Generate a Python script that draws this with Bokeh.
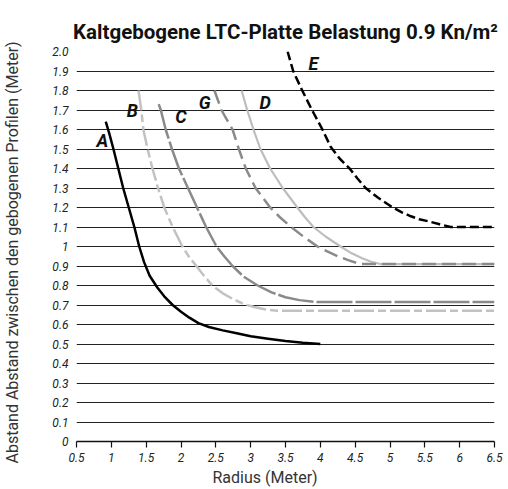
from bokeh.plotting import figure
from bokeh.models import FixedTicker, Title
from bokeh.core.properties import value
from bokeh.embed import file_html
from bokeh.resources import INLINE

title_text = "Kaltgebogene LTC-Platte Belastung 0.9 Kn/m²"
x_label = "Radius (Meter)"
y_label = "Abstand Abstand zwischen den gebogenen Profilen (Meter)"

x_ticks = [0.5, 1, 1.5, 2, 2.5, 3, 3.5, 4, 4.5, 5, 5.5, 6, 6.5]
x_tick_labels = ["0.5", "1", "1.5", "2", "2.5", "3", "3.5", "4", "4.5", "5", "5.5", "6", "6.5"]
y_ticks = [0, 0.1, 0.2, 0.3, 0.4, 0.5, 0.6, 0.7, 0.8, 0.9, 1, 1.1, 1.2, 1.3, 1.4, 1.5, 1.6, 1.7, 1.8, 1.9, 2.0]
y_tick_labels = ["0", "0.1", "0.2", "0.3", "0.4", "0.5", "0.6", "0.7", "0.8", "0.9", "1",
                 "1.1", "1.2", "1.3", "1.4", "1.5", "1.6", "1.7", "1.8", "1.9", "2.0"]

A_x = [0.92, 0.97, 1.03, 1.1, 1.17, 1.25, 1.33, 1.4, 1.47, 1.55, 1.66, 1.77, 1.88, 2.0, 2.12,
       2.25, 2.4, 2.6, 2.8, 3.0, 3.25, 3.5, 3.75, 4.0]
A_y = [1.64, 1.58, 1.5, 1.4, 1.3, 1.2, 1.1, 1.0, 0.92, 0.85, 0.79, 0.74, 0.7, 0.665, 0.635,
       0.607, 0.587, 0.57, 0.555, 0.54, 0.527, 0.515, 0.506, 0.5]

B_x = [1.39, 1.43, 1.46, 1.52, 1.59, 1.67, 1.76, 1.88, 2.02, 2.11, 2.22, 2.33, 2.45, 2.6, 2.75,
       2.9, 3.05, 3.2, 3.38, 6.5]
B_y = [1.8, 1.7, 1.6, 1.5, 1.4, 1.3, 1.2, 1.1, 1.0, 0.95, 0.9, 0.85, 0.8, 0.76, 0.73,
       0.705, 0.69, 0.678, 0.67, 0.67]

C_x = [1.68, 1.71, 1.78, 1.87, 1.97, 2.1, 2.23, 2.36, 2.51, 2.62, 2.74, 2.9, 3.1, 3.3, 3.5,
       3.7, 3.93, 6.5]
C_y = [1.73, 1.7, 1.6, 1.5, 1.4, 1.3, 1.2, 1.1, 1.0, 0.95, 0.9, 0.845, 0.8, 0.765, 0.74,
       0.725, 0.715, 0.715]

G_x = [2.48, 2.58, 2.74, 2.83, 2.93, 3.07, 3.28, 3.42, 3.58, 3.76, 3.96, 4.1, 4.25, 4.4, 4.57, 6.5]
G_y = [1.8, 1.7, 1.6, 1.5, 1.4, 1.3, 1.2, 1.15, 1.1, 1.05, 1.0, 0.975, 0.95, 0.93, 0.91, 0.91]

D_x = [2.87, 2.95, 3.04, 3.14, 3.28, 3.46, 3.67, 3.78, 3.9, 4.08, 4.29, 4.45, 4.6, 4.73, 4.86, 6.5]
D_y = [1.8, 1.7, 1.6, 1.5, 1.4, 1.3, 1.2, 1.15, 1.1, 1.05, 1.0, 0.965, 0.94, 0.922, 0.91, 0.91]

E_x = [3.53, 3.61, 3.74, 3.88, 4.03, 4.15, 4.28, 4.42, 4.53, 4.65, 4.83, 5.04, 5.17, 5.3, 5.42,
       5.54, 5.7, 5.87, 6.5]
E_y = [2.0, 1.9, 1.8, 1.7, 1.6, 1.51, 1.45, 1.4, 1.35, 1.3, 1.25, 1.2, 1.175, 1.155, 1.14,
       1.13, 1.115, 1.1, 1.1]

label_names = ["A", "B", "C", "G", "D", "E"]
label_x = [0.87, 1.30, 2.0, 2.34, 3.21, 3.90]
label_y = [1.544, 1.697, 1.667, 1.738, 1.738, 1.938]

FONT = "Roboto"

p = figure(width=508, height=489, x_range=(0.5, 6.5), y_range=(0, 2.0),
           output_backend="svg", toolbar_location=None,
           min_border_left=76, min_border_right=14, min_border_top=51, min_border_bottom=48)
p.outline_line_color = None
p.background_fill_color = "white"

p.title.text = title_text
p.title.align = "center"
p.title.text_font = FONT
p.title.text_font_size = "20.5px"
p.title.text_font_style = "bold"
p.title.text_color = "#111111"
p.title.standoff = 16

p.xgrid.grid_line_color = None
p.ygrid.ticker = FixedTicker(ticks=y_ticks)
p.ygrid.grid_line_color = "#222222"
p.ygrid.grid_line_width = 1.2

p.xaxis.ticker = FixedTicker(ticks=x_ticks)
p.xaxis.major_label_overrides = dict(zip(x_ticks, x_tick_labels))
p.xaxis.axis_line_color = "#111111"
p.xaxis.axis_line_width = 1.5
p.xaxis.major_tick_line_color = "#111111"
p.xaxis.major_tick_line_width = 1.2
p.xaxis.major_tick_in = 0
p.xaxis.major_tick_out = 6
p.xaxis.minor_tick_line_color = None

p.yaxis.ticker = FixedTicker(ticks=y_ticks)
p.yaxis.major_label_overrides = dict(zip(y_ticks, y_tick_labels))
p.yaxis.axis_line_color = None
p.yaxis.major_tick_line_color = None
p.yaxis.minor_tick_line_color = None
p.yaxis.major_tick_in = 0
p.yaxis.major_tick_out = 0
p.yaxis.minor_tick_in = 0
p.yaxis.minor_tick_out = 0
p.yaxis.major_label_standoff = 8
# trailing no-break spaces shift the visible title slightly below the frame centre, as in the reference
p.yaxis.axis_label = y_label + "\u00a0" * 3
p.yaxis.axis_label_standoff = 27
p.yaxis.axis_label_text_font = FONT
p.yaxis.axis_label_text_font_size = "16px"
p.yaxis.axis_label_text_font_style = "normal"
p.yaxis.axis_label_text_color = "#333333"

for ax in (p.xaxis, p.yaxis):
    ax.major_label_text_font = FONT
    ax.major_label_text_font_size = "12px"
    ax.major_label_text_font_style = "italic"
    ax.major_label_text_color = "#222222"

# x-axis title as a side title (the reference places it left of centre)
p.add_layout(Title(text=x_label, align="left", offset=136, standoff=2, text_font=FONT,
                   text_font_size="16px", text_font_style="normal", text_color="#333333"), "below")

common = dict(line_join="round", line_cap="butt")
p.line(A_x, A_y, line_color="black", line_width=2.5, **common)
p.line(B_x, B_y, line_color="#c2c2c2", line_width=2.5, line_dash="20 4 8 4", **common)
p.line(C_x, C_y, line_color="#8a8a8a", line_width=2.5, line_dash="36 3", **common)
p.line(D_x, D_y, line_color="#bdbdbd", line_width=2.2, **common)
p.line(G_x, G_y, line_color="#8a8a8a", line_width=2.5, line_dash="14 6", **common)
p.line(E_x, E_y, line_color="black", line_width=2.5, line_dash="9 4", **common)

p.text(label_x, label_y, text=label_names, text_font=value(FONT), text_font_size="18px",
       text_font_style="bold italic", text_color="#111111", text_align="center", text_baseline="middle")

open("out.html", "w").write(file_html(p, INLINE))
